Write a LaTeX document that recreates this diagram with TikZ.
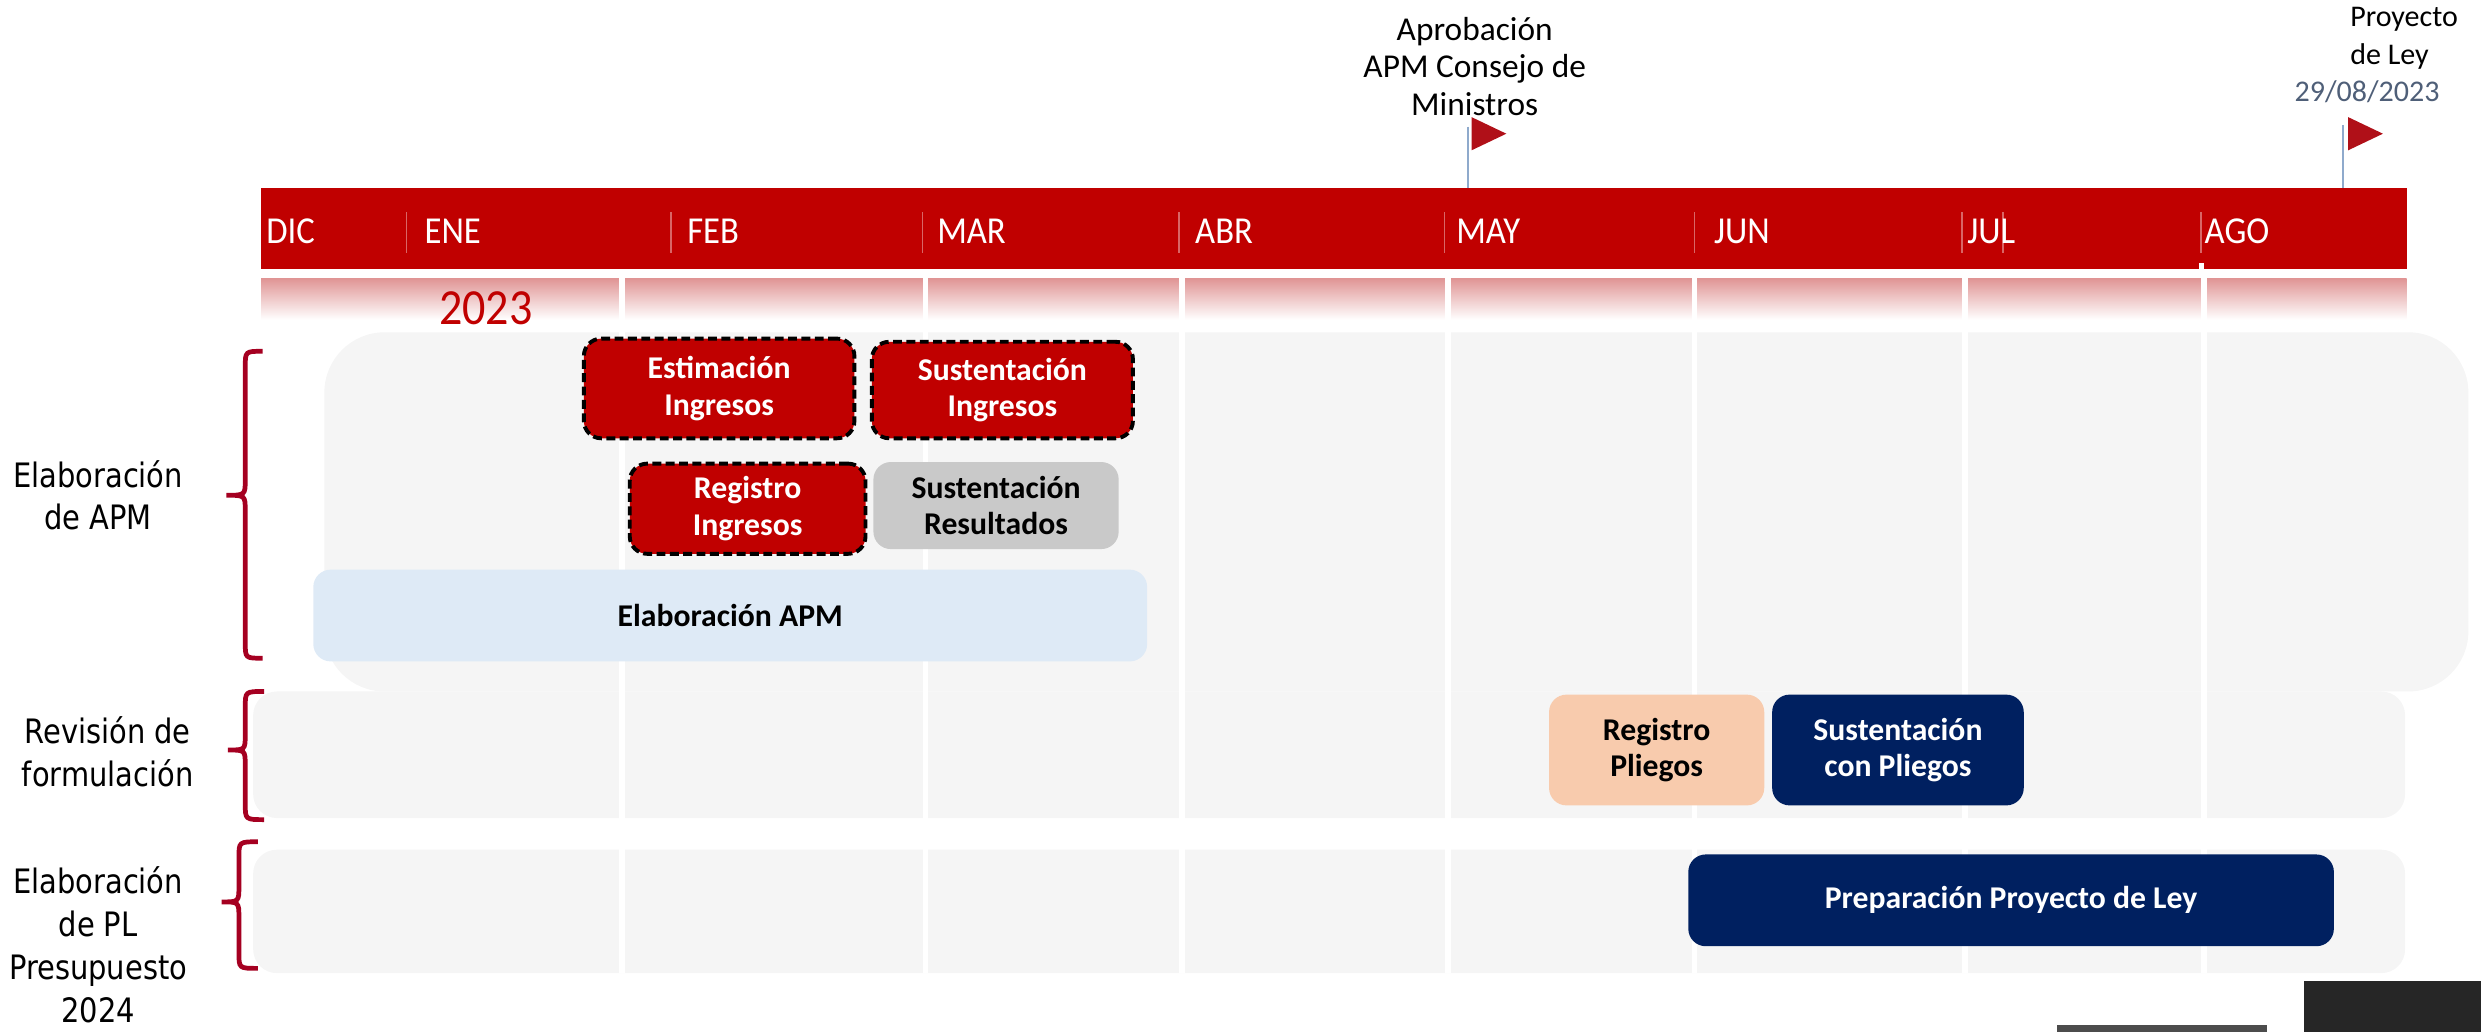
\documentclass[tikz,border=0pt]{standalone}
\usepackage{fontspec}
\setmainfont{Carlito}
\newfontfamily\tallfont{Carlito}[FakeStretch=0.91]
\newfontfamily\labelfont{DejaVu Sans}[FakeStretch=0.86]
\definecolor{barred}{HTML}{C00000}
\definecolor{bandtop}{HTML}{E09595}
\definecolor{flagred}{HTML}{B01018}
\definecolor{bracered}{HTML}{A50021}
\definecolor{lanegray}{HTML}{F5F5F5}
\definecolor{navy}{HTML}{002060}
\definecolor{peach}{HTML}{F8CBAD}
\definecolor{paleblue}{HTML}{DEEAF6}
\definecolor{boxgray}{HTML}{C9C9C9}
\definecolor{polecolor}{HTML}{8FAACC}
\definecolor{datecolor}{HTML}{4F5F78}
\tikzset{
  month/.style={anchor=west,text=white,inner sep=0pt,font=\tallfont\fontsize{13.7}{15}\selectfont},
  task/.style={rounded corners=0.22cm,align=center,inner sep=0pt,font=\bfseries\fontsize{11.4}{13.2}\selectfont},
  redtask/.style={task,fill=barred,text=white,draw=black,line width=1.4pt,dash pattern=on 3.2pt off 1.6pt},
  phase/.style={align=center,font=\labelfont\fontsize{12.1}{15.4}\selectfont},
  milestone/.style={align=center,inner sep=0pt,font=\fontsize{12}{13.6}\selectfont},
  brace/.style={draw=bracered,line width=1.7pt},
  gridline/.style={white,line width=2pt},
  separator/.style={barred!60!white,line width=0.6pt}
}
\begin{document}
\begin{tikzpicture}
\useasboundingbox (0,0) rectangle (31.36,-13.04);
\fill[barred] (3.30,-2.38) rectangle (30.42,-3.40);
\foreach \x in {5.14,8.48,11.66,14.90,18.26,21.42,24.80,25.32,27.82}
  \draw[separator] (\x,-2.68) -- (\x,-3.20);
\fill[white] (27.80,-3.32) rectangle (27.86,-3.40);
\foreach \m/\x in {DIC/3.36,ENE/5.36,FEB/8.68,MAR/11.84,ABR/15.10,MAY/18.40,JUN/21.66,JUL/24.86,AGO/27.86}
  \node[month] (m\m) at (\x,-2.92) {\m};
\shade[top color=bandtop,bottom color=white] (3.30,-3.52) rectangle (30.42,-4.04);
\node[text=barred,inner sep=0pt,font=\tallfont\fontsize{18.2}{20}\selectfont] (year) at (6.14,-3.90) {2023};
\fill[lanegray,rounded corners=0.76cm] (4.10,-4.20) rectangle (31.20,-8.74);
\fill[lanegray,rounded corners=0.3cm] (3.20,-8.74) rectangle (30.40,-10.34);
\fill[lanegray,rounded corners=0.3cm] (3.20,-10.74) rectangle (30.40,-12.30);
\foreach \x in {7.86,11.70,14.94,18.30,21.42,24.84,27.86}
  \draw[gridline] (\x,-3.52) -- (\x,-12.30);
\draw[polecolor,line width=0.8pt] (18.56,-1.60) -- (18.56,-2.38);
\fill[flagred] (18.60,-1.48) -- (18.60,-1.90) -- (19.04,-1.69) -- cycle;
\node[milestone] (aprob) at (18.64,-0.84) {Aprobación\\APM Consejo de\\Ministros};
\draw[polecolor,line width=0.8pt] (29.62,-1.58) -- (29.62,-2.38);
\fill[flagred] (29.68,-1.48) -- (29.68,-1.90) -- (30.12,-1.69) -- cycle;
\node[milestone,anchor=west,align=left,font=\fontsize{10.8}{13.6}\selectfont] (proy) at (29.70,-0.48) {Proyecto\\de Ley};
\node[milestone,text=datecolor,font=\fontsize{10.8}{13.6}\selectfont] (fecha) at (29.92,-1.16) {29/08/2023};
\node[redtask,minimum width=3.42cm,minimum height=1.26cm] (estim) at (9.09,-4.91) {Estimación\\Ingresos};
\node[redtask,minimum width=3.30cm,minimum height=1.22cm] (sustI) at (12.67,-4.93) {Sustentación\\Ingresos};
\node[redtask,minimum width=2.98cm,minimum height=1.14cm] (regI) at (9.45,-6.43) {Registro\\Ingresos};
\node[task,fill=boxgray,minimum width=3.10cm,minimum height=1.10cm] (sustR) at (12.59,-6.39) {Sustentación\\Resultados};
\node[task,fill=paleblue,minimum width=10.54cm,minimum height=1.16cm] (elab) at (9.23,-7.78) {Elaboración APM};
\node[task,fill=peach,minimum width=2.72cm,minimum height=1.40cm] (regP) at (20.94,-9.48) {Registro\\Pliegos};
\node[task,fill=navy,text=white,minimum width=3.18cm,minimum height=1.40cm] (sustP) at (23.99,-9.48) {Sustentación\\con Pliegos};
\node[task,fill=navy,text=white,minimum width=8.16cm,minimum height=1.16cm] (prep) at (25.42,-11.38) {Preparación Proyecto de Ley};
\node[phase] (faseA) at (1.24,-6.26) {Elaboración\\de APM};
\node[phase] (faseB) at (1.36,-9.50) {Revisión de\\formulación};
\node[phase] (faseC) at (1.24,-11.94) {Elaboración\\de PL\\Presupuesto\\2024};
\draw[brace] (3.32,-4.44) .. controls (3.10,-4.44) .. (3.10,-4.64) -- (3.10,-6.06) .. controls (3.10,-6.26) .. (2.86,-6.26) .. controls (3.10,-6.26) .. (3.10,-6.46) -- (3.10,-8.12) .. controls (3.10,-8.32) .. (3.32,-8.32);
\draw[brace] (3.34,-8.74) .. controls (3.10,-8.74) .. (3.10,-8.94) -- (3.10,-9.28) .. controls (3.10,-9.48) .. (2.88,-9.48) .. controls (3.10,-9.48) .. (3.10,-9.68) -- (3.10,-10.16) .. controls (3.10,-10.36) .. (3.34,-10.36);
\draw[brace] (3.26,-10.64) .. controls (3.02,-10.64) .. (3.02,-10.84) -- (3.02,-11.20) .. controls (3.02,-11.40) .. (2.80,-11.40) .. controls (3.02,-11.40) .. (3.02,-11.60) -- (3.02,-12.04) .. controls (3.02,-12.24) .. (3.26,-12.24);
\fill[black!85] (29.12,-12.40) rectangle (31.36,-13.04);
\fill[black!70] (26.00,-12.96) rectangle (28.66,-13.04);
\end{tikzpicture}
\end{document}
